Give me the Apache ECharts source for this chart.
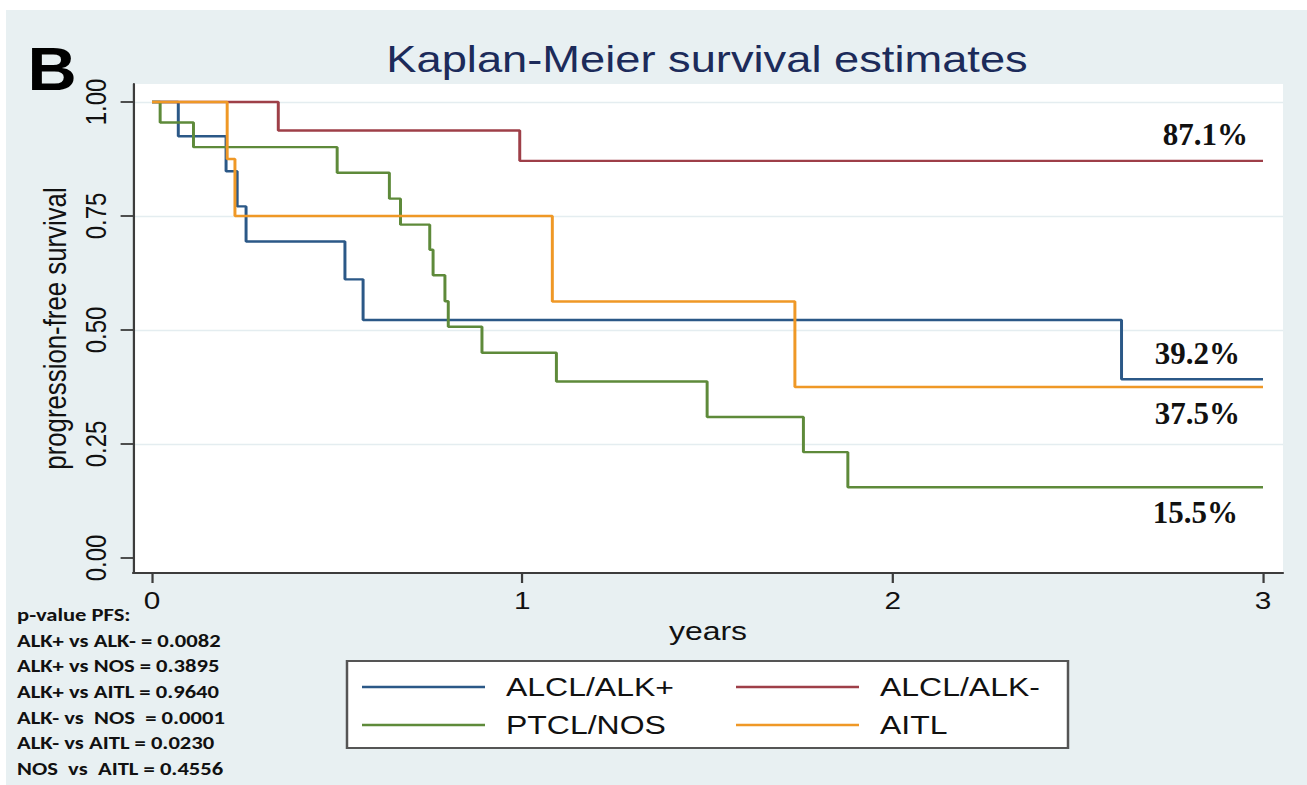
<!DOCTYPE html>
<html>
<head>
<meta charset="utf-8">
<script src="https://cdn.jsdelivr.net/npm/echarts@6/dist/echarts.min.js"></script>
<style>
html, body { margin: 0; padding: 0; background: #ffffff; width: 1307px; height: 785px; overflow: hidden; }
#chart { position: absolute; left: 0; top: 0; height: 785px; transform-origin: 0 0; }
</style>
</head>
<body>
<div id="chart"></div>
<script>
// ---------------- data ----------------
const seriesNames = ['ALCL/ALK+', 'ALCL/ALK-', 'PTCL/NOS', 'AITL'];

const alkPosTimes = [0, 0.071, 0.200, 0.230, 0.254, 0.521, 0.570, 2.618, 3];
const alkPosSurv  = [1, 0.925, 0.848, 0.771, 0.694, 0.611, 0.522, 0.392, 0.392];

const alkNegTimes = [0, 0.341, 0.993, 3];
const alkNegSurv  = [1, 0.9375, 0.871, 0.871];

const nosTimes = [0, 0.022, 0.112, 0.500, 0.641, 0.671, 0.750, 0.759, 0.791, 0.800, 0.891, 1.092, 1.499, 1.759, 1.879, 3];
const nosSurv  = [1, 0.955, 0.901, 0.845, 0.788, 0.731, 0.676, 0.620, 0.563, 0.507, 0.450, 0.387, 0.309, 0.232, 0.155, 0.155];

const aitlTimes = [0, 0.203, 0.224, 1.081, 1.736, 3];
const aitlSurv  = [1, 0.875, 0.750, 0.5625, 0.375, 0.375];

const xTicks = [0, 1, 2, 3];
const yTicks = [0, 0.25, 0.5, 0.75, 1];

const finalLabels = ['39.2%', '87.1%', '15.5%', '37.5%'];

const pValueLines = [
  'p-value PFS:',
  'ALK+ vs ALK- = 0.0082',
  'ALK+ vs NOS = 0.3895',
  'ALK+ vs AITL = 0.9640',
  'ALK- vs  NOS  = 0.0001',
  'ALK- vs AITL = 0.0230',
  'NOS  vs  AITL = 0.4556'
];

// ---------------- styles / layout ----------------
const SX = 1.24;                 // the reference graph is stretched horizontally
const W = 1307 / SX;
const sx = v => v / SX;          // screen x -> internal x
const colors = ['#2b5887', '#9e3f48', '#5e8a3a', '#ef9826'];
const SANS = "'Liberation Sans', Arial, Helvetica, sans-serif";
const labelDx = [-23, -15, -25, -23];   // screen px, relative to x = 3
const labelDy = [-26, -26, 25, 27];
const legendCols = [362, 736];
const legendRows = [687, 725];

const el = document.getElementById('chart');
el.style.width = W + 'px';
el.style.transform = 'scaleX(' + SX + ')';

const chart = echarts.init(el, null, { renderer: 'svg', width: W, height: 785 });

const allTimes = [alkPosTimes, alkNegTimes, nosTimes, aitlTimes];
const allSurv = [alkPosSurv, alkNegSurv, nosSurv, aitlSurv];

const series = seriesNames.map((name, i) => ({
  name: name,
  type: 'line',
  step: 'end',
  symbol: 'none',
  showSymbol: false,
  color: colors[i],
  lineStyle: { width: 2.4, color: colors[i] },
  data: allTimes[i].map((t, k) => [t, allSurv[i][k]]),
  z: 2 + i
}));

const legends = seriesNames.map((name, i) => ({
  data: [name],
  left: sx(legendCols[i % 2]),
  top: legendRows[Math.floor(i / 2)] - 13.5,
  padding: 0,
  icon: 'rect',
  itemWidth: sx(123),
  itemHeight: 2.4,
  selectedMode: false,
  z: 6,
  textStyle: {
    fontFamily: SANS, fontSize: 25.8, color: '#111', lineHeight: 27,
    padding: [0, 0, 0, sx(21) - 5]
  }
}));

const axisColor = '#3c3c3c';

const option = {
  animation: false,
  backgroundColor: '#e8f0f2',
  grid: {
    left: sx(133), right: W - sx(1283), top: 84, bottom: 785 - 573,
    show: true, backgroundColor: '#ffffff', borderWidth: 0
  },
  xAxis: {
    type: 'value', min: -0.0513, max: 3.054,
    axisLine: { onZero: false, lineStyle: { color: axisColor, width: 1.8 } },
    axisTick: { customValues: xTicks, length: 10, lineStyle: { color: axisColor, width: 1.8 } },
    axisLabel: { customValues: xTicks, margin: 16, fontSize: 24, fontFamily: SANS, color: '#111',
                 formatter: v => String(v) },
    splitLine: { show: false },
    name: 'years', nameLocation: 'middle', nameGap: 43,
    nameTextStyle: { fontSize: 25.8, fontFamily: SANS, color: '#111' }
  },
  yAxis: {
    type: 'value', min: -0.033, max: 1.0395,
    axisLine: { show: true, onZero: false, lineStyle: { color: axisColor, width: 1.8 } },
    axisTick: { show: true, customValues: yTicks, length: 10, lineStyle: { color: axisColor, width: 1.8 } },
    axisLabel: { customValues: yTicks, rotate: 90, margin: 18, fontSize: 24, fontFamily: SANS, color: '#111',
                 formatter: v => v.toFixed(2) },
    splitLine: { show: true, showMinLine: false, lineStyle: { color: '#e4edf0', width: 1.4 } },
    name: 'progression-free survival', nameLocation: 'middle', nameGap: 46, nameRotate: 90,
    nameTextStyle: { fontSize: 25.8, fontFamily: SANS, color: '#111' }
  },
  legend: legends,
  series: series,
  graphic: [
    { id: 'stripTop', type: 'rect', silent: true, z: 0,
      shape: { x: 0, y: 0, width: W, height: 10 }, style: { fill: '#ffffff' } },
    { id: 'stripLeft', type: 'rect', silent: true, z: 0,
      shape: { x: 0, y: 0, width: sx(6), height: 785 }, style: { fill: '#ffffff' } },
    { id: 'legendBox', type: 'rect', silent: true, z: 1,
      shape: { x: sx(347), y: 661, width: sx(1068 - 347), height: 87 },
      style: { fill: '#ffffff', stroke: '#555555', lineWidth: 2 } },
    { id: 'title', type: 'text', silent: true, z: 5, x: sx(707), y: 60,
      style: { text: 'Kaplan-Meier survival estimates', fill: '#1c2b5a',
               font: '36.5px ' + SANS, textAlign: 'center', textVerticalAlign: 'middle' } },
    { id: 'panelB', type: 'text', silent: true, z: 5, x: sx(52), y: 69, scaleX: 1.1 / SX,
      style: { text: 'B', fill: '#000', font: 'bold 62px ' + SANS, textAlign: 'center', textVerticalAlign: 'middle' } },
    { id: 'pvals', type: 'text', silent: true, z: 5, x: sx(17), y: 602, scaleX: 1.19 / SX,
      style: { text: pValueLines.join('\n'), fill: '#111', font: 'bold 19px Carlito, Lato, sans-serif',
               lineHeight: 25.6, textAlign: 'left', textVerticalAlign: 'top' } }
  ]
};

chart.setOption(option);

// percentage annotations at the end of each curve
const extra = finalLabels.map((txt, i) => {
  const s = allSurv[i];
  const p = chart.convertToPixel({ gridIndex: 0 }, [3, s[s.length - 1]]);
  return {
    id: 'pct' + i, type: 'text', silent: true, z: 5,
    x: p[0] + sx(labelDx[i]), y: p[1] + labelDy[i], scaleX: 1 / SX,
    style: { text: txt, fill: '#111', font: 'bold 31px "Liberation Serif", "Times New Roman", serif',
             textAlign: 'right', textVerticalAlign: 'middle' }
  };
});
chart.setOption({ graphic: extra });
</script>
</body>
</html>
